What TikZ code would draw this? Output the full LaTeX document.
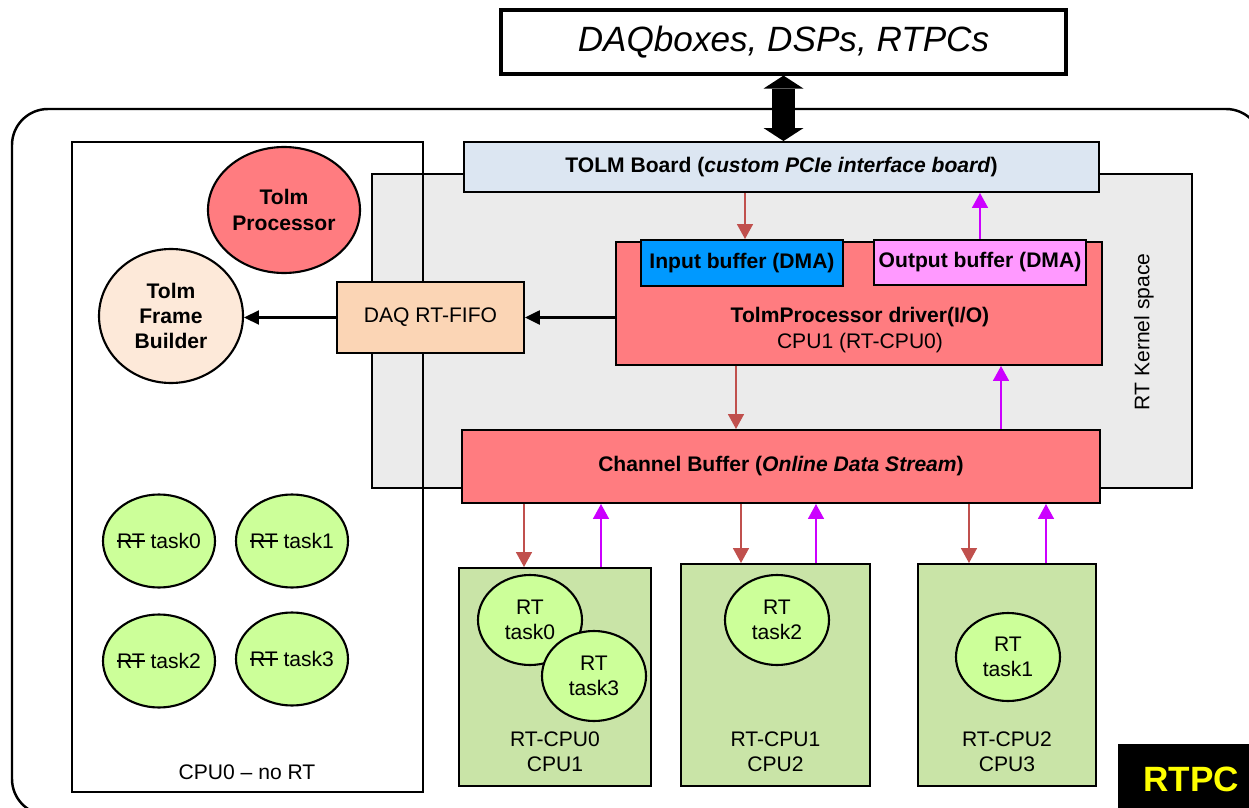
\documentclass[tikz,border=0pt]{standalone}
\usepackage{fontspec}
\setmainfont{Liberation Sans}
\usetikzlibrary{arrows.meta,calc,shapes.geometric}
\definecolor{tolmblue}{HTML}{DCE6F2}
\definecolor{kgray}{HTML}{EBEBEB}
\definecolor{pinkred}{HTML}{FF7C80}
\definecolor{inblue}{HTML}{0099FF}
\definecolor{outpink}{HTML}{FF99FF}
\definecolor{peach}{HTML}{FBD5B5}
\definecolor{lightpeach}{HTML}{FDE9D9}
\definecolor{taskgreen}{HTML}{CCFF99}
\definecolor{cpugreen}{HTML}{C9E4A7}
\definecolor{arrred}{HTML}{C0504D}
\definecolor{arrmag}{HTML}{CC00FF}
\definecolor{rtpcyellow}{HTML}{FFFF00}
\newcommand\strk[1]{\leavevmode\setbox0=\hbox{#1}\rlap{\rule[0.32em]{\wd0}{0.8pt}}\box0\relax}
\newcommand\fs{\fontsize{12}{14.4}\selectfont}
\begin{document}
\begin{tikzpicture}[x=0.02cm,y=-0.02cm,
  sz/.style 2 args={minimum width=#1*0.02cm, minimum height=#2*0.02cm},
  box/.style={draw, line width=1.1pt, inner sep=0pt, align=center, font=\fs},
  ell/.style={ellipse, draw, line width=1.2pt, inner sep=0pt, align=center, font=\fs},
  strell/.style={ell, fill=taskgreen, inner xsep=-2.6pt, sz={112}{93}},
  redarr/.style={draw=arrred, line width=1.1pt, -{Triangle[length=8.5pt,width=9pt]}},
  magarr/.style={draw=arrmag, line width=1.1pt, -{Triangle[length=8.5pt,width=9pt]}},
  blkarr/.style={draw=black, line width=1.2pt, -{Triangle[length=8.5pt,width=8pt]}},
  lbl/.style={inner sep=0pt, align=center, font=\fs}
]
\useasboundingbox (0,0) rectangle (1249,808);
\begin{scope}
\clip (0,0) rectangle (1249,808);
\draw[line width=1.4pt, rounded corners=0.72cm] (12,109) rectangle (1262,815);
\node[fill=black, inner sep=0pt, sz={150}{75}] (rtpcbox) at (1193,781) {};
\end{scope}
\node[text=rtpcyellow, font=\fontsize{20}{24}\selectfont\bfseries, inner sep=0pt] (rtpc) at (1191,779) {RTPC};

% top box
\node[box, line width=1.8pt, sz={565}{64}, font=\fontsize{20}{24}\selectfont\itshape] (daq) at (783.5,42) {DAQboxes, DSPs, RTPCs};

% kernel space
\node[box, fill=kgray, sz={820}{314}] (kernel) at (782,331) {};
\node[lbl, rotate=90] (klabel) at (1144,332) {RT Kernel space};

% CPU0 box
\node[box, sz={351}{650}] (cpu0) at (247.5,467) {};
\node[lbl] (cpu0lbl) at (247,772) {CPU0 -- no RT};

% TOLM board
\node[box, fill=tolmblue, sz={635}{50}, font=\fs\bfseries] (tolm) at (781.5,167) {TOLM Board (\textit{custom PCIe interface board})};

% driver
\node[box, fill=pinkred, sz={486}{123}] (driver) at (859,303.5) {};
\node[lbl] (drvtxt) at (860,330) {\textbf{TolmProcessor driver(I/O)}\\CPU1 (RT-CPU0)};
\node[box, fill=inblue, sz={202}{46}, font=\fs\bfseries] (inbuf) at (742,263) {Input buffer (DMA)};
\node[box, fill=outpink, sz={212}{45}, font=\fs\bfseries] (outbuf) at (980,262.5) {Output buffer (DMA)};

% FIFO
\node[box, fill=peach, sz={187}{71}] (fifo) at (430.5,317.5) {DAQ RT-FIFO};

% channel buffer
\node[box, fill=pinkred, sz={638}{73}, font=\fs\bfseries] (chan) at (781,466.5) {Channel Buffer (\textit{Online Data Stream})};

% left ellipses
\node[ell, fill=pinkred, sz={152}{126}, font=\fs\bfseries] (tproc) at (284,210) {Tolm\\Processor};
\node[ell, fill=lightpeach, sz={144}{134}, font=\fs\bfseries] (tfb) at (171,316) {Tolm\\Frame\\Builder};

\node[strell] (l0) at (159,541) {\strk{RT} task0};
\node[strell] (l1) at (292,541) {\strk{RT} task1};
\node[strell] (l2) at (159,661) {\strk{RT} task2};
\node[strell] (l3) at (292,659) {\strk{RT} task3};

% CPU boxes
\node[box, fill=cpugreen, sz={192}{218}] (b1) at (555,677) {};
\node[box, fill=cpugreen, sz={189}{222}] (b2) at (775.5,675) {};
\node[box, fill=cpugreen, sz={178}{222}] (b3) at (1007,675) {};
\node[lbl] (b1l) at (555,752) {RT-CPU0\\CPU1};
\node[lbl] (b2l) at (775.5,752) {RT-CPU1\\CPU2};
\node[lbl] (b3l) at (1007,752) {RT-CPU2\\CPU3};

\node[ell, fill=taskgreen, sz={104}{90}] (t0) at (530,620) {RT\\task0};
\node[ell, fill=taskgreen, sz={104}{90}] (t3) at (594,676) {RT\\task3};
\node[ell, fill=taskgreen, sz={104}{90}] (t2) at (777,620) {RT\\task2};
\node[ell, fill=taskgreen, sz={104}{88}] (t1) at (1008,657) {RT\\task1};

% connectors
\draw[line width=13pt, {Triangle[length=0.26cm,width=0.8cm,line width=0pt]}-{Triangle[length=0.26cm,width=0.8cm,line width=0pt]}] (daq.south) -- (daq.south |- tolm.north);

\coordinate (a1) at ($(inbuf.north)+(3,0)$);
\draw[redarr] (a1 |- tolm.south) -- (a1);
\draw[magarr] (outbuf.north) -- (outbuf.north |- tolm.south);
\draw[blkarr] (fifo.east -| driver.west) -- (fifo.east);
\draw[blkarr] (fifo.west) -- (fifo.west -| tfb.east);

\coordinate (a2) at ($(driver.south)+(-123,0)$);
\draw[redarr] (a2) -- (a2 |- chan.north);
\coordinate (a3) at ($(driver.south)+(142,0)$);
\draw[magarr] (a3 |- chan.north) -- (a3);

\coordinate (r1) at ($(chan.south)+(-257,0)$);
\coordinate (m1) at ($(chan.south)+(-180,0)$);
\coordinate (r2) at ($(chan.south)+(-40,0)$);
\coordinate (m2) at ($(chan.south)+(35,0)$);
\coordinate (r3) at ($(chan.south)+(188,0)$);
\coordinate (m3) at ($(chan.south)+(265,0)$);
\draw[redarr] (r1) -- (r1 |- b1.north);
\draw[magarr] (m1 |- b1.north) -- (m1);
\draw[redarr] (r2) -- (r2 |- b2.north);
\draw[magarr] (m2 |- b2.north) -- (m2);
\draw[redarr] (r3) -- (r3 |- b3.north);
\draw[magarr] (m3 |- b3.north) -- (m3);
\end{tikzpicture}
\end{document}
